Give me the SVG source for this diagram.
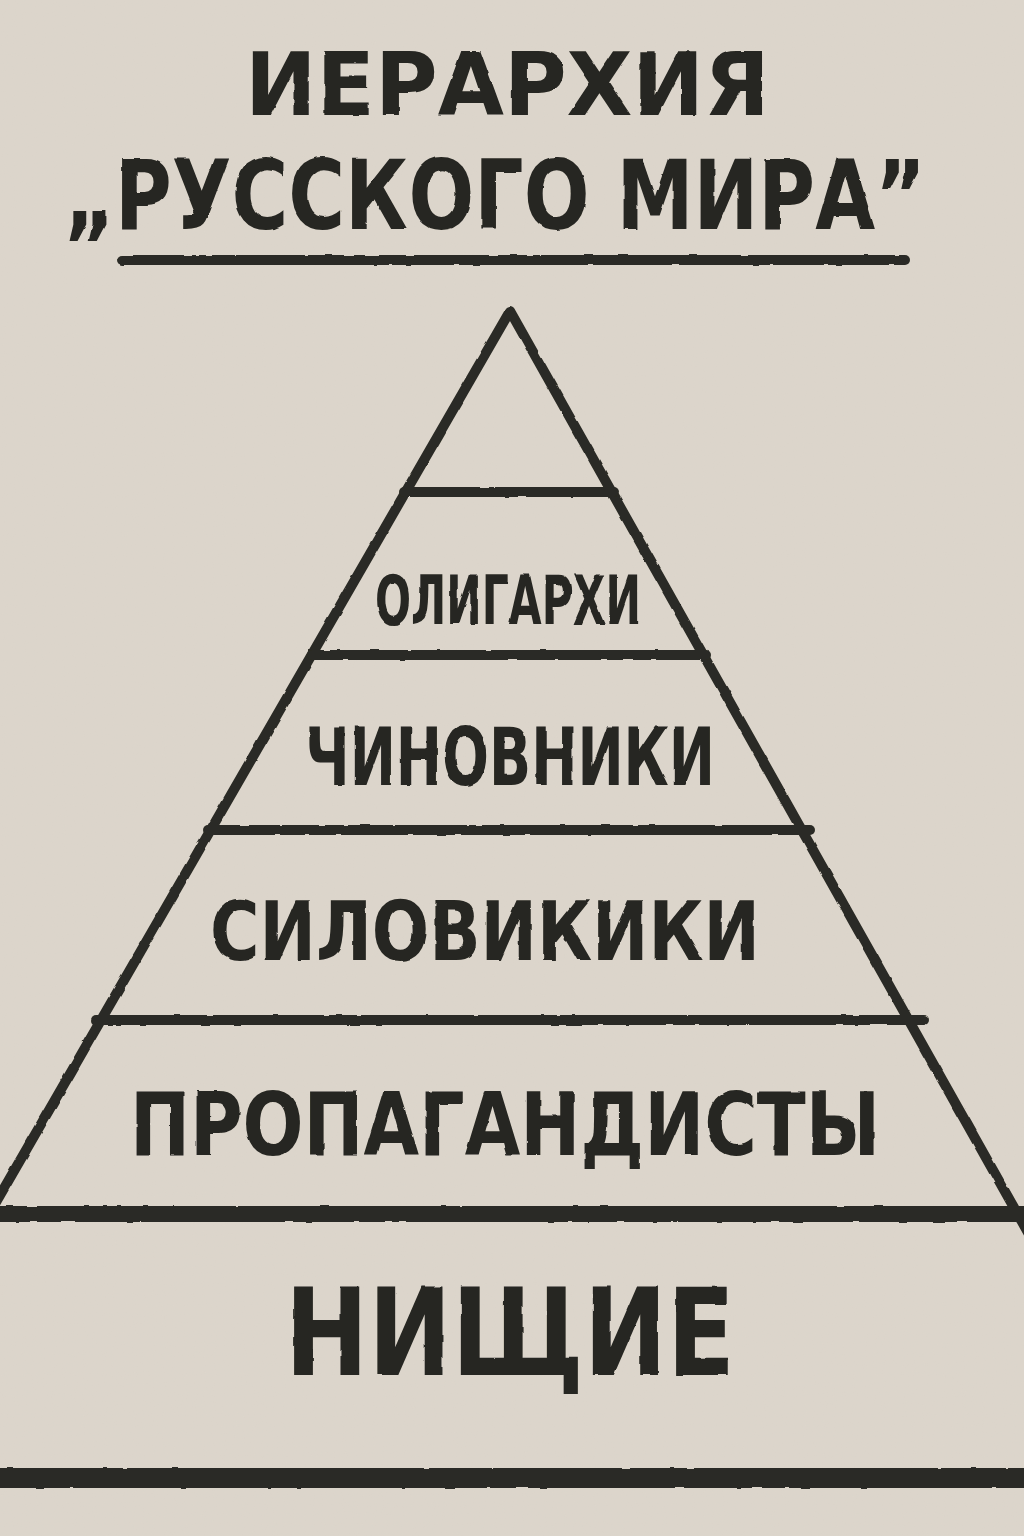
<svg xmlns="http://www.w3.org/2000/svg" width="1024" height="1536" viewBox="0 0 1024 1536">
  <defs>
    <filter id="paper" x="0" y="0" width="1024" height="1536" filterUnits="userSpaceOnUse">
      <feTurbulence type="fractalNoise" baseFrequency="0.9" numOctaves="2" seed="3" result="n"/>
      <feColorMatrix in="n" type="matrix" values="0 0 0 0 0.5  0 0 0 0 0.48  0 0 0 0 0.44  0 0 0 0.08 0" result="c"/>
      <feComposite in="c" in2="SourceGraphic" operator="over"/>
    </filter>
    <filter id="rough" x="-40" y="0" width="1110" height="1536" filterUnits="userSpaceOnUse">
      <feTurbulence type="fractalNoise" baseFrequency="0.06" numOctaves="2" seed="7" result="t"/>
      <feDisplacementMap in="SourceGraphic" in2="t" scale="2.5" xChannelSelector="R" yChannelSelector="G"/>
    </filter>
    <style>
      .ln { fill: none; stroke: #2b2b25; stroke-linecap: round; stroke-linejoin: round; }
      .txt { font-family: "DejaVu Sans Condensed", "Liberation Sans Narrow", "DejaVu Sans", sans-serif; font-weight: bold; fill: #262621; text-anchor: start; }
    </style>
  </defs>

  <rect x="0" y="0" width="1024" height="1536" fill="#ddd6cc" filter="url(#paper)"/>

  <g id="title" filter="url(#rough)">
    <text class="txt" x="245" y="115" font-size="88" textLength="525" lengthAdjust="spacingAndGlyphs">ИЕРАРХИЯ</text>
    <text class="txt" x="64" y="229" font-size="96" textLength="862" lengthAdjust="spacingAndGlyphs">„РУССКОГО МИРА”</text>
  </g>
  <g id="title-underline" filter="url(#rough)">
    <line class="ln" x1="122" y1="260" x2="905" y2="260" stroke-width="10"/>
  </g>

  <g id="connectors" filter="url(#rough)">
    <polyline id="pyramid-outline" class="ln" stroke-width="10" points="-12,1216 510,311 1030,1236"/>
    <line class="ln" x1="404" y1="492" x2="614" y2="492" stroke-width="10"/>
    <line class="ln" x1="312" y1="655" x2="706" y2="655" stroke-width="10"/>
    <line class="ln" x1="208" y1="830" x2="810" y2="830" stroke-width="10"/>
    <line class="ln" x1="96" y1="1020" x2="924" y2="1020" stroke-width="10"/>
    <line class="ln" x1="-5" y1="1214" x2="1030" y2="1214" stroke-width="16"/>
    <line class="ln" x1="-5" y1="1478" x2="1030" y2="1478" stroke-width="20"/>
  </g>

  <g id="tier-oligarhi" filter="url(#rough)">
    <text class="txt" x="375" y="624" font-size="68" textLength="266" lengthAdjust="spacingAndGlyphs">ОЛИГАРХИ</text>
  </g>
  <g id="tier-chinovniki" filter="url(#rough)">
    <text class="txt" x="305" y="785" font-size="80" textLength="410" lengthAdjust="spacingAndGlyphs">ЧИНОВНИКИ</text>
  </g>
  <g id="tier-siloviki" filter="url(#rough)">
    <text class="txt" x="210" y="960" font-size="82" textLength="550" lengthAdjust="spacingAndGlyphs">СИЛОВИКИКИ</text>
  </g>
  <g id="tier-propagandisty" filter="url(#rough)">
    <text class="txt" x="130" y="1155" font-size="88" textLength="750" lengthAdjust="spacingAndGlyphs">ПРОПАГАНДИСТЫ</text>
  </g>
  <g id="tier-nishchie" filter="url(#rough)">
    <text class="txt" x="285" y="1375" font-size="122" textLength="450" lengthAdjust="spacingAndGlyphs">НИЩИЕ</text>
  </g>
</svg>
